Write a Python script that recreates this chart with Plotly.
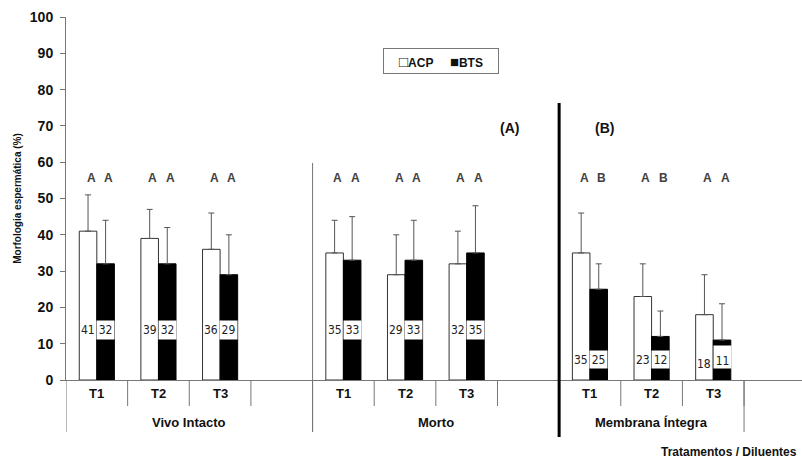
import plotly.graph_objects as go

# ---- data ----
groups = ["Vivo Intacto", "Morto", "Membrana Íntegra"]
treatments = ["T1", "T2", "T3"]
series = ["ACP", "BTS"]
acp_mean = [41, 39, 36, 35, 29, 32, 35, 23, 18]
bts_mean = [32, 32, 29, 33, 33, 35, 25, 12, 11]
acp_sd = [10, 8, 10, 9, 11, 9, 11, 9, 11]
bts_sd = [12, 10, 11, 12, 11, 13, 7, 7, 10]
acp_letters = ["A", "A", "A", "A", "A", "A", "A", "A", "A"]
bts_letters = ["A", "A", "A", "A", "A", "A", "B", "B", "A"]
y_ticks = list(range(0, 101, 10))

# ---- layout constants ----
slots_per_group = [4, 4, 3]          # Excel-style: empty slot after T3 (except last)
bargap = 0.43
half = (1 - bargap) / 4              # offset from slot center to each bar center
ML, MR, MT, MB = 66, 0, 17, 84
W, H = 802, 464
plot_h = H - MT - MB
plot_w = W - ML - MR
px = lambda p: p / plot_h            # pixel -> paper fraction (vertical)
pxx = lambda p: (p - ML) / plot_w    # pixel -> paper fraction (horizontal)

# category slots
xs, starts = [], []
s = 0
for gi, g in enumerate(groups):
    starts.append(s)
    for ti in range(len(treatments)):
        xs.append(s + ti)
    s += slots_per_group[gi]
starts.append(s - slots_per_group[-1] + len(treatments))  # end of last group

fig = go.Figure()
fig.add_trace(go.Bar(
    x=xs, y=acp_mean, name=series[0], showlegend=False,
    marker=dict(color="white", line=dict(color="#333333", width=1)),
    error_y=dict(type="data", symmetric=False, array=acp_sd,
                 arrayminus=[0] * len(acp_sd), color="#555555", thickness=1, width=3),
))
fig.add_trace(go.Bar(
    x=xs, y=bts_mean, name=series[1], showlegend=False,
    marker=dict(color="black", line=dict(color="black", width=1)),
    error_y=dict(type="data", symmetric=False, array=bts_sd,
                 arrayminus=[0] * len(bts_sd), color="#555555", thickness=1, width=3),
))

ann = []
shapes = []
fam = "Liberation Sans, Arial, sans-serif"
narrow = "Liberation Sans Narrow, DejaVu Sans Condensed, Arial Narrow, sans-serif"
BF = lambda size, color="#111111": dict(family=fam, size=size, color=color, weight="bold")

# significance letters
for i, x in enumerate(xs):
    for dx, lt in ((-half, acp_letters[i]), (half, bts_letters[i])):
        ann.append(dict(x=x + dx, y=55.6, text=lt, showarrow=False,
                        xshift=3, font=BF(12, "#404040")))

# value labels
label_y = [13.8, 13.8, 5.6]
box_h = [18, 18, 17]
for i, x in enumerate(xs):
    gi = i // 3
    ly, bh, va, ay = label_y[gi], box_h[gi], "middle", label_y[gi]
    if gi == 2 and i % 3 == 2:
        ly, bh, va, ay = 6.3, 22, "bottom", 4.4
    ann.append(dict(x=x - half, y=ay, text=str(acp_mean[i]), showarrow=False,
                    font=dict(family=narrow, size=12, color="#222222")))
    ann.append(dict(x=x + half, y=ly, text=str(bts_mean[i]), showarrow=False,
                    bgcolor="white", width=17, height=bh, borderpad=0, valign=va,
                    font=dict(family=narrow, size=12, color="#222222")))

# category axis (Excel multi-level style)
for gi, g in enumerate(groups):
    st = starts[gi]
    for ti, t in enumerate(treatments):
        ann.append(dict(x=st + ti, y=-px(13), xref="x", yref="paper", text=t,
                        showarrow=False, yanchor="middle", font=BF(13)))
        shapes.append(dict(type="line", xref="x", yref="paper", x0=st + ti + 0.5, x1=st + ti + 0.5,
                           y0=0, y1=-px(26), line=dict(color="#777777", width=1)))
    gend = st + slots_per_group[gi] if gi < len(groups) - 1 else st + len(treatments)
    ann.append(dict(x=(st - 0.5 + gend - 0.5) / 2, y=-px(42), xref="x", yref="paper",
                    text=g, showarrow=False, yanchor="middle", font=BF(13)))
    shapes.append(dict(type="line", xref="x", yref="paper", x0=st - 0.5, x1=st - 0.5,
                       y0=0, y1=-px(52), line=dict(color="#777777", width=1)))
shapes.append(dict(type="line", xref="x", yref="paper", x0=starts[-1] - 0.5, x1=starts[-1] - 0.5,
                   y0=0, y1=-px(52), line=dict(color="#777777", width=1)))

# separators in the plot area
shapes.append(dict(type="line", xref="x", yref="paper", x0=starts[1] - 0.5, x1=starts[1] - 0.5,
                   y0=-px(52), y1=px(380 - 163), line=dict(color="#777777", width=1)))
shapes.append(dict(type="line", xref="x", yref="paper", x0=starts[2] - 0.5, x1=starts[2] - 0.5,
                   y0=-px(57), y1=px(380 - 103), line=dict(color="black", width=3)))

ann.append(dict(x=6.69, y=69.4, text="(A)", showarrow=False, font=BF(14)))
ann.append(dict(x=8.23, y=69.4, text="(B)", showarrow=False, font=BF(14)))
ann.append(dict(x=1.0, y=-px(72), xref="paper", yref="paper", xanchor="right", yanchor="middle",
                text="Tratamentos / Diluentes", showarrow=False, xshift=-3, font=BF(12)))

# legend box
sq = '<span style="font-size:15px;font-weight:normal">%s</span>'
ann.append(dict(x=pxx(441), y=px(380 - 60.5), xref="paper", yref="paper",
                xanchor="center", yanchor="middle",
                text=(sq % "\u25a1") + series[0] + "     " + (sq % "\u25a0") + series[1],
                showarrow=False,
                width=114, height=24, borderpad=0, bordercolor="#777777", borderwidth=1,
                bgcolor="white", font=BF(12)))

fig.update_layout(
    width=W, height=H,
    margin=dict(l=ML, r=MR, t=MT, b=MB),
    paper_bgcolor="white", plot_bgcolor="white",
    barmode="group", bargap=bargap, bargroupgap=0,
    annotations=ann, shapes=shapes, showlegend=False,
    xaxis=dict(range=[-0.5, 11.44], showticklabels=False, ticks="", showgrid=False,
               zeroline=False, showline=True, linecolor="#777777", linewidth=1,
               fixedrange=True, automargin=False),
    yaxis=dict(range=[0, 100], tickvals=y_ticks, ticks="outside", ticklen=5, tickcolor="#777777",
               showgrid=False, zeroline=False, showline=True, linecolor="#777777", linewidth=1,
               tickfont=BF(14), ticklabelstandoff=4, automargin=False,
               title=dict(text="Morfologia espermática (%)", standoff=6, font=BF(10))),
)

fig.write_html("out.html", config={"displayModeBar": False},
               post_script="document.body.style.margin='0';document.body.style.overflow='hidden';")
